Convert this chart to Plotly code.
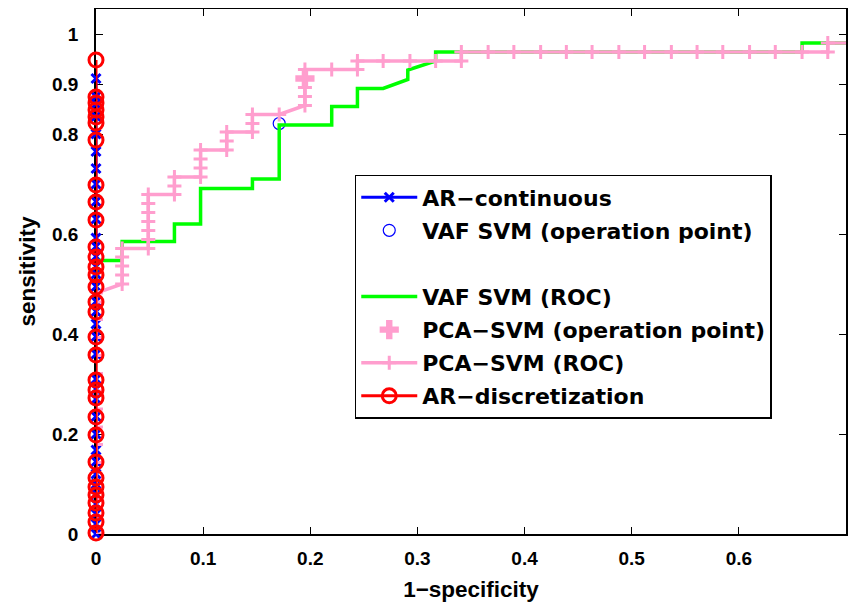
import plotly.graph_objects as go

# ---------------- data ----------------
ar_cont_x = [0] * 35
ar_cont_y = [0.0, 0.02, 0.04, 0.06, 0.08, 0.10, 0.12, 0.145, 0.168, 0.20, 0.235, 0.27,
             0.29, 0.31, 0.36, 0.395, 0.42, 0.445, 0.465, 0.495, 0.52, 0.535, 0.555,
             0.575, 0.592, 0.63, 0.665, 0.70, 0.731, 0.765, 0.80, 0.835, 0.86, 0.875, 0.911]

vaf_op_x = [0.171]
vaf_op_y = [0.821]

vaf_roc_x = [0.0, 0.0, 0.0244, 0.0244, 0.0732, 0.0732, 0.0976, 0.0976, 0.146, 0.146, 0.171,
             0.171, 0.22, 0.22, 0.244, 0.244, 0.268, 0.291, 0.291, 0.317, 0.317, 0.659,
             0.659, 0.707]
vaf_roc_y = [0.0, 0.547, 0.547, 0.585, 0.585, 0.62, 0.62, 0.691, 0.691, 0.71, 0.71,
             0.818, 0.818, 0.855, 0.855, 0.891, 0.891, 0.909, 0.928, 0.946, 0.964, 0.964,
             0.982, 0.982]

pca_op_x = [0.195]
pca_op_y = [0.911]

pca_roc_x = [0, 0, 0, 0, 0, 0, 0, 0, 0, 0, 0, 0, 0, 0, 0,
             0.0244, 0.0244, 0.0244, 0.0244, 0.0244,
             0.0488, 0.0488, 0.0488, 0.0488, 0.0488, 0.0488, 0.0488,
             0.0732, 0.0732, 0.0732,
             0.0976, 0.0976, 0.0976, 0.0976,
             0.122, 0.122, 0.122,
             0.146, 0.146, 0.146,
             0.171,
             0.195, 0.195, 0.195, 0.195, 0.195,
             0.22, 0.244, 0.244,
             0.268, 0.293, 0.317, 0.341, 0.341,
             0.366, 0.39, 0.415, 0.439, 0.463, 0.488, 0.512, 0.537, 0.561, 0.585,
             0.61, 0.634, 0.659, 0.683, 0.683, 0.707]
pca_roc_y = [0.0, 0.036, 0.071, 0.107, 0.143, 0.179, 0.214, 0.25, 0.286, 0.321, 0.357,
             0.393, 0.429, 0.464, 0.482,
             0.5, 0.518, 0.536, 0.554, 0.571,
             0.571, 0.589, 0.607, 0.625, 0.643, 0.661, 0.679,
             0.679, 0.696, 0.714,
             0.714, 0.732, 0.75, 0.768,
             0.768, 0.786, 0.804,
             0.804, 0.821, 0.839,
             0.839,
             0.857, 0.875, 0.893, 0.911, 0.929,
             0.929, 0.929, 0.946,
             0.946, 0.946, 0.946, 0.946, 0.964,
             0.964, 0.964, 0.964, 0.964, 0.964, 0.964, 0.964, 0.964, 0.964, 0.964,
             0.964, 0.964, 0.964, 0.964, 0.982, 0.982]

ar_disc_x = [0] * 32
ar_disc_y = [0.002, 0.024, 0.042, 0.062, 0.078, 0.094, 0.112, 0.144, 0.198, 0.234, 0.272,
             0.288, 0.308, 0.358, 0.394, 0.444, 0.464, 0.494, 0.518, 0.534, 0.554, 0.574,
             0.628, 0.664, 0.698, 0.788, 0.822, 0.834, 0.848, 0.862, 0.874, 0.948]

x_ticks = [0, 0.1, 0.2, 0.3, 0.4, 0.5, 0.6, 0.7]
x_tick_text = ["0", "0.1", "0.2", "0.3", "0.4", "0.5", "0.6", "0.7"]
y_ticks = [0, 0.2, 0.4, 0.6, 0.8, 0.9, 1]
y_tick_text = ["0", "0.2", "0.4", "0.6", "0.8", "0.9", "1"]

BLUE = "#0000FF"
GREEN = "#00FF00"
PINK = "#FF9ECE"
RED = "#FF0000"
FONT = "Liberation Sans"

fig = go.Figure()

fig.add_trace(go.Scatter(
    x=ar_cont_x, y=ar_cont_y, name="<b>AR\u2212continuous</b>", mode="lines+markers",
    cliponaxis=False, legendgroup="g1",
    line=dict(color=BLUE, width=3),
    marker=dict(symbol="x-thin", size=9, color=BLUE, line=dict(color=BLUE, width=3))))

fig.add_trace(go.Scatter(
    x=vaf_op_x, y=vaf_op_y, name="<b>VAF SVM (operation point)</b>", mode="markers",
    legendgroup="g2",
    marker=dict(symbol="circle-open", size=12, color=BLUE, line=dict(color=BLUE, width=1.2))))

fig.add_trace(go.Scatter(
    x=[None], y=[None], name="\u00a0", mode="markers", legendgroup="g3",
    marker=dict(color="rgba(0,0,0,0)", size=1)))

fig.add_trace(go.Scatter(
    x=vaf_roc_x, y=vaf_roc_y, name="<b>VAF SVM (ROC)</b>", mode="lines",
    legendgroup="g4",
    line=dict(color=GREEN, width=3.5)))

fig.add_trace(go.Scatter(
    x=pca_op_x, y=pca_op_y, name="<b>PCA\u2212SVM (operation point)</b>", mode="markers",
    legendgroup="g5",
    marker=dict(symbol="cross", size=16, color=PINK, line=dict(width=0))))

fig.add_trace(go.Scatter(
    x=pca_roc_x, y=pca_roc_y, name="<b>PCA\u2212SVM (ROC)</b>", mode="lines+markers",
    legendgroup="g6",
    line=dict(color=PINK, width=3.5),
    marker=dict(symbol="cross-thin", size=10, color=PINK, line=dict(color=PINK, width=3))))

fig.add_trace(go.Scatter(
    x=ar_disc_x, y=ar_disc_y, name="<b>AR\u2212discretization</b>", mode="lines+markers",
    cliponaxis=False, legendgroup="g7",
    line=dict(color=RED, width=3),
    marker=dict(symbol="circle-open", size=14, color=RED, line=dict(color=RED, width=3))))

axis_common = dict(
    showgrid=False, zeroline=False, showline=True, linecolor="black", linewidth=1.5,
    mirror="ticks", ticks="inside", ticklen=7, tickwidth=1, tickcolor="black",
    automargin=False, layer="below traces",
    tickfont=dict(family=FONT, size=19, color="black", weight="bold"),
)

fig.update_xaxes(range=[0, 0.7], tickvals=x_ticks, ticktext=x_tick_text,
                 ticklabelstandoff=6,
                 title=dict(text="<b>1\u2212specificity</b>",
                            font=dict(family=FONT, size=22.5, color="black"), standoff=14),
                 **axis_common)
fig.update_yaxes(range=[0, 1.05], tickvals=y_ticks, ticktext=y_tick_text,
                 ticklabelstandoff=12,
                 title=dict(text="<b>sensitivity</b>",
                            font=dict(family=FONT, size=22.5, color="black"), standoff=10),
                 **axis_common)

# the page body keeps an 8 px margin, so the figure is 8 px smaller on each axis
fig.update_layout(
    width=850, height=598,
    margin=dict(l=88, r=12, t=1, b=72),
    paper_bgcolor="white", plot_bgcolor="white",
    font=dict(family=FONT, color="black"),
    legend=dict(x=0.345, y=0.684, xanchor="left", yanchor="top",
                bgcolor="white", bordercolor="black", borderwidth=1.5,
                font=dict(family="DejaVu Sans", size=22, color="black"),
                itemwidth=56, tracegroupgap=1.5),
)

fig.write_html("out.html")
